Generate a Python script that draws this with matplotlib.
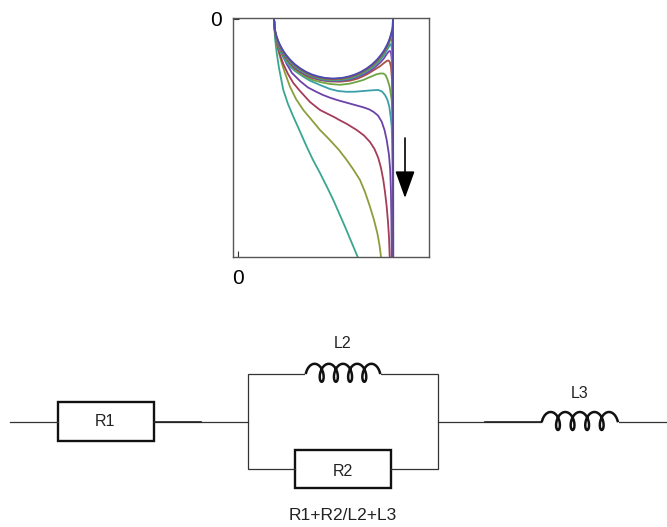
import numpy as np
import matplotlib
matplotlib.use("Agg")
import matplotlib.pyplot as plt
from matplotlib.patches import Rectangle

plt.rcParams["font.family"] = ["Liberation Sans", "DejaVu Sans"]

# curves, position of the 0 ticks is subtracted when drawing
x0 = 238
y0 = 19

c1_x = [274,275,276.7,279,283.3,288,293.3,298,303.3,306.7,313,320,327,333.3,339,345,351,357.7]
c1_y = [19,38,53,68,90,104,116.7,127,139,146.7,160,173,187,200,213,226.7,241,257]
c2_x = [274,275,277,281.7,285,290,296,303.3,311.7,320,326.7,331.7,339,346.7,353,360,365,370,374,377.3,379.5,381]
c2_y = [19,33,46,63,73,86.7,99,110,120,130,136.7,142,150,160,169,180,192,206.7,220,233,245,257]
c3_x = [274,275,276.7,280,283.3,288,293.3,300,310,320,335,339.3,347,356.7,364,370,374.5,378.3,381,383.3,385,386.7,388,389,389.7]
c3_y = [19,31,43,55,64,74,83,91,102,110,117.5,120,124,130,135.5,142,149,158,168,180,192,206.7,222,237,257]
c4_x = [274,275,276,278.3,282,286.7,292,300,308,316.7,323,330,338,346.7,355,363.3,369,373.3,378,381.7,384.5,386.7,389,390.2,390.9,391.4,391.7]
c4_y = [19,32,37,44,54,64,73,81,87.5,92,95,97.7,100.3,102.7,105,107.3,109.3,111.7,115.5,121.7,130,140,155,170,190,220,257]
c5_x = [274,275,276,278,280,283,286,290,295,303,310,320,330,338,346.7,355,363.3,372,378.3,382,385,387.5,389.3,390.7,391.7,392.2,392.6,392.8]
c5_y = [19,34,39,46,51,57,61.5,66.5,71,76.5,80.7,85,89,91,91.8,91.7,91,90.3,90,91.5,95,100,106.7,117,127,145,175,257]
c6_x = [274,275,276,278,280,283,286,290,295,300,306,312,320,330,340,350,358,363.3,370,376.7,380,383.3,385.5,387.3,389.5,391.7,392.5,393,393]
c6_y = [19,33.5,38.5,45,49.5,55,59.5,64.5,69.7,73.2,77,79.8,82,84,84.8,83.6,81.5,80,77,74.3,73.5,73.5,75,79,86,100,125,170,257]
c7_x = [274,275,276,278,280,283,286,290,295,300,306,312,320,330,340,350,358,366.7,374,380,384,387,388.5,389.8,391,392,392.7,393,393]
c7_y = [19,33,38,44,48.5,54,58.3,63.3,68.5,72,75.5,78,80,81.5,81.7,80.7,78.5,74.5,70,66.3,63,60.8,60.5,62,67,80,105,150,257]
c8_x = [274,275,276,278,280,283,286,290,295,300,306,312,318,325,333,342,349,355,361,367,372,377,381,384,387,389,390,391,391.8,392.4,392.8,393]
c8_y = [19,32,37,43,48,53.2,57.7,62.7,67.6,71.3,74.7,77.1,79,80.4,81,80.7,79.6,78,75.7,72.8,69.6,65.6,61.8,58.3,53.7,51.2,51,53,60,75,110,257]
c9_x = [274,275,276,278,280,283,286,290,295,300,306,312,318,325,333,342,349,355,361,367,372,377,381,384,387,389,390.3,391.2,392,392.6,393,393]
c9_y = [19,31.5,36.5,42.5,47,52.3,56.8,61.8,66.6,70.4,73.9,76.4,78.3,79.8,80.3,80,78.7,77,74.4,71.2,67.7,63.4,59,55.2,50,46.5,44,44.5,50,70,110,257]
c10_x = [274,275,276,278,280,283,286,290,295,300,306,312,318,325,333,342,349,355,361,367,372,377,381,384,387,389.5,391,391.8,392.4,392.8,393]
c10_y = [19,31,36,42,46.2,51.7,56,61,65.8,69.6,73.1,75.7,77.6,79.1,79.7,79.2,77.8,76,73.3,70,66.3,61.8,57.2,53,47.5,42,38,39,48,75,257]
c11_x = [274,275,276,278,280,283,286,290,295,300,306,312,318,325,333,342,349,355,361,367,372,377,381,384,387,389,390.5,391.8,392.4,392.8,393,393]
c11_y = [19,30,35,41,45.5,51,55.3,60.2,65,68.8,72.4,75.1,77,78.5,79.1,78.5,77,75.2,72.5,69,65.3,60.7,56,51.8,46.3,41.8,37,32,32,45,70,257]
c12_x = [274,274.5,275,276,278,280,283,286,290,295,300,306,312,318,325,333,342,349,355,361,367,372,377,381,384,387,389,391,392,392.5,393,393.3]
c12_y = [19,26.7,30,34.3,40.4,45,50.5,54.8,59.6,64.4,68.2,71.8,74.5,76.4,77.9,78.5,77.9,76.4,74.5,71.8,68.2,64.4,59.6,54.8,50.5,45,40.4,34.3,30,26.7,19,257]

curves = [(c1_x,c1_y),(c2_x,c2_y),(c3_x,c3_y),(c4_x,c4_y),(c5_x,c5_y),(c6_x,c6_y),
          (c7_x,c7_y),(c8_x,c8_y),(c9_x,c9_y),(c10_x,c10_y),(c11_x,c11_y),(c12_x,c12_y)]
colors = ["#3aa68f","#8a9e3c","#a53c58","#6c42aa","#3a9fa8","#6da544",
          "#a8523f","#7a45b0","#3a9aa0","#5fa040","#a05050","#4d4bb0"]

# circuit parts, x left, y top, x right, y bottom
boxes = [(57.7,402,153.7,440.7),(295,450,391,488)]
wires = [([10,57.7],[421.7,421.7]),([153.7,247.7],[421.7,421.7]),
         ([304,247.7,247.7,295],[374,374,469,469]),
         ([381,437.7,437.7,391],[374,374,469,469]),
         ([437.7,541],[421.7,421.7]),([619,667],[421.7,421.7])]
thick_wires = [([153.7,201],[421.7,421.7]),([485,541],[421.7,421.7])]
coils = [(314.6,2.26,372.8),(550.7,2.32,421)]
labels = [(105,421,"R1",11.5),(343,471,"R2",11.5),(343,344,"L2",11.5),(580,393,"L3",11.5),
          (343,515,"R1+R2/L2+L3",12.5)]

fig = plt.figure(figsize=(6.67,5.27),dpi=100)
W, H = 667, 527

ax = fig.add_axes([232.5/W,1-257/H,196.5/W,239/H])
for (cx,cy),col in zip(curves,colors):
    ax.plot(np.array(cx)-x0,np.array(cy)-y0,color=col,lw=1.3)
ax.set_xlim(232.5-x0,429-x0)
ax.set_ylim(257-y0,18-y0)
ax.set_xticks([0])
ax.set_yticks([0])
ax.tick_params(direction="in",length=4.5,width=0.8,color="#333333",labelsize=15)
ax.tick_params(axis="x",pad=8.5)
ax.tick_params(axis="y",pad=8)
for s in ax.spines.values():
    s.set_color("#555555")
    s.set_linewidth(1.0)
ax.annotate("",xy=(405-x0,198-y0),xytext=(405-x0,138-y0),
            arrowprops=dict(arrowstyle="-|>,head_length=1.05,head_width=0.38",color="black",lw=1.2,
                            shrinkA=0,shrinkB=0,mutation_scale=16))

# circuit layer in picture pixels
cir = fig.add_axes([0,0,1,1])
cir.set_xlim(0,W)
cir.set_ylim(H,0)
cir.axis("off")
cir.patch.set_alpha(0)
for wx,wy in wires:
    cir.plot(wx,wy,color="#333333",lw=0.9,solid_joinstyle="miter")
for wx,wy in thick_wires:
    cir.plot(wx,wy,color="#222222",lw=1.2)
for x1,y1,x2,y2 in boxes:
    cir.add_patch(Rectangle((x1,y1),x2-x1,y2-y1,fill=False,ec="#111111",lw=1.7))
for cx,step,ym in coils:
    t = np.linspace(-np.pi/2,8.5*np.pi,500)
    cir.plot(cx+step*t+5*np.sin(t),ym-9*np.cos(t),color="#111111",lw=1.8)
for tx,ty,s,fs in labels:
    cir.text(tx,ty,s,ha="center",va="center",fontsize=fs,color="#222222")

fig.savefig("out.png",dpi=100)
